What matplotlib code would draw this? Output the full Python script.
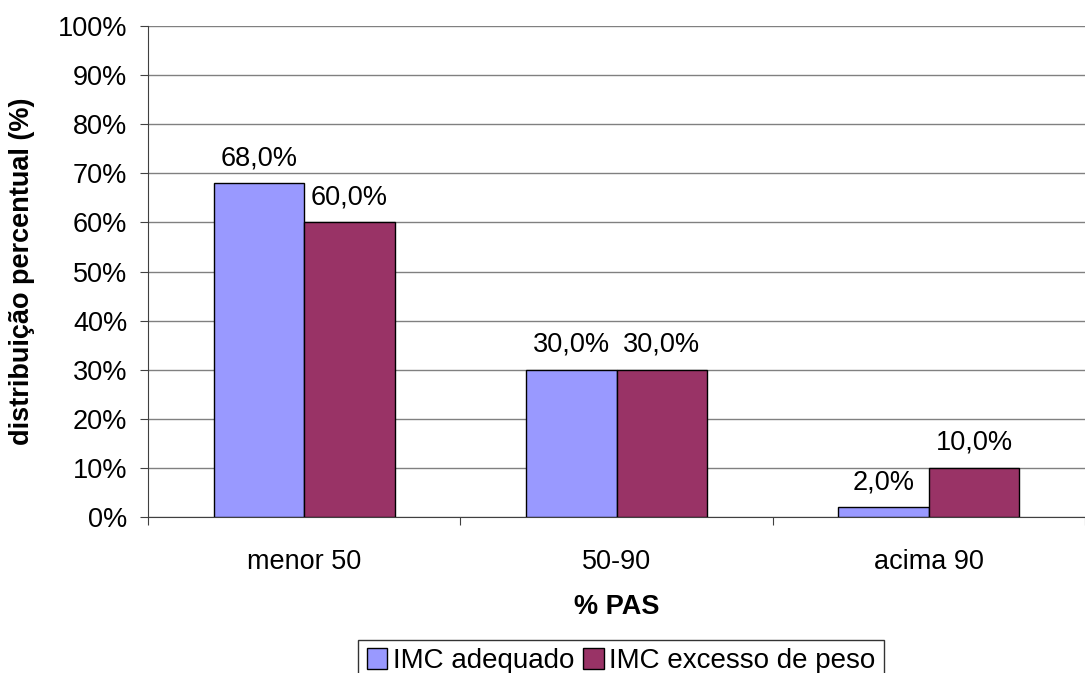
import matplotlib.pyplot as plt
import numpy as np

plt.rcParams['font.family'] = ['Liberation Sans', 'DejaVu Sans']

# Data
categorias = ['menor 50', '50-90', 'acima 90']
imc_adequado = [68.0, 30.0, 2.0]
imc_excesso = [60.0, 30.0, 10.0]
series_nomes = ['IMC adequado', 'IMC excesso de peso']

cor_adequado = '#9999FF'
cor_excesso = '#993366'
fs = 19.5

fig = plt.figure(figsize=(10.85, 6.73), dpi=100)
ax = fig.add_axes([148 / 1085, 1 - 517 / 673, 1 - 148 / 1085, (517 - 26) / 673])

x = np.arange(len(categorias))
w = 0.29

b1 = ax.bar(x - w / 2, imc_adequado, w, color=cor_adequado, edgecolor='black',
            linewidth=1, label=series_nomes[0], zorder=3)
b2 = ax.bar(x + w / 2, imc_excesso, w, color=cor_excesso, edgecolor='black',
            linewidth=1, label=series_nomes[1], zorder=3)

for bars in (b1, b2):
    for rect in bars:
        h = rect.get_height()
        ax.annotate(f"{h:.1f}%".replace('.', ','),
                    (rect.get_x() + rect.get_width() / 2, h),
                    xytext=(0, 18), textcoords='offset points',
                    ha='center', va='center', fontsize=fs)

ax.set_xlim(-0.5, 2.5)
ax.set_ylim(0, 100)
ax.set_yticks(np.arange(0, 101, 10))
ax.set_yticklabels([f"{v}%" for v in range(0, 101, 10)], fontsize=fs)
ax.yaxis.grid(True, color='#808080', linewidth=1, zorder=0)

# category labels sit between boundary ticks
ax.set_xticks([-0.5, 0.5, 1.5, 2.5])
ax.set_xticklabels([])
ax.set_xticks(x, minor=True)
ax.set_xticklabels(categorias, minor=True, fontsize=fs)
ax.tick_params(axis='x', which='minor', length=0, pad=23)
ax.tick_params(axis='x', which='major', length=6, color='#404040')
ax.tick_params(axis='y', length=6, color='#404040', pad=9)

for s in ('top', 'right'):
    ax.spines[s].set_visible(False)
ax.spines['left'].set_color('#404040')
ax.spines['bottom'].set_color('#404040')

ax.set_xlabel('% PAS', fontsize=fs, fontweight='bold', labelpad=14)
ax.set_ylabel('distribuição percentual (%)', fontsize=fs, fontweight='bold', labelpad=16)

leg = fig.legend(loc='upper center', bbox_to_anchor=(621 / 1085, 1 - 640 / 673), ncol=2,
                 fontsize=20, frameon=True, fancybox=False, edgecolor='black',
                 handlelength=0.75, handleheight=0.75, handletextpad=0.2,
                 columnspacing=0.3, borderpad=0.3, borderaxespad=0)
leg.get_frame().set_linewidth(1)

fig.savefig('out.png', dpi=100)
